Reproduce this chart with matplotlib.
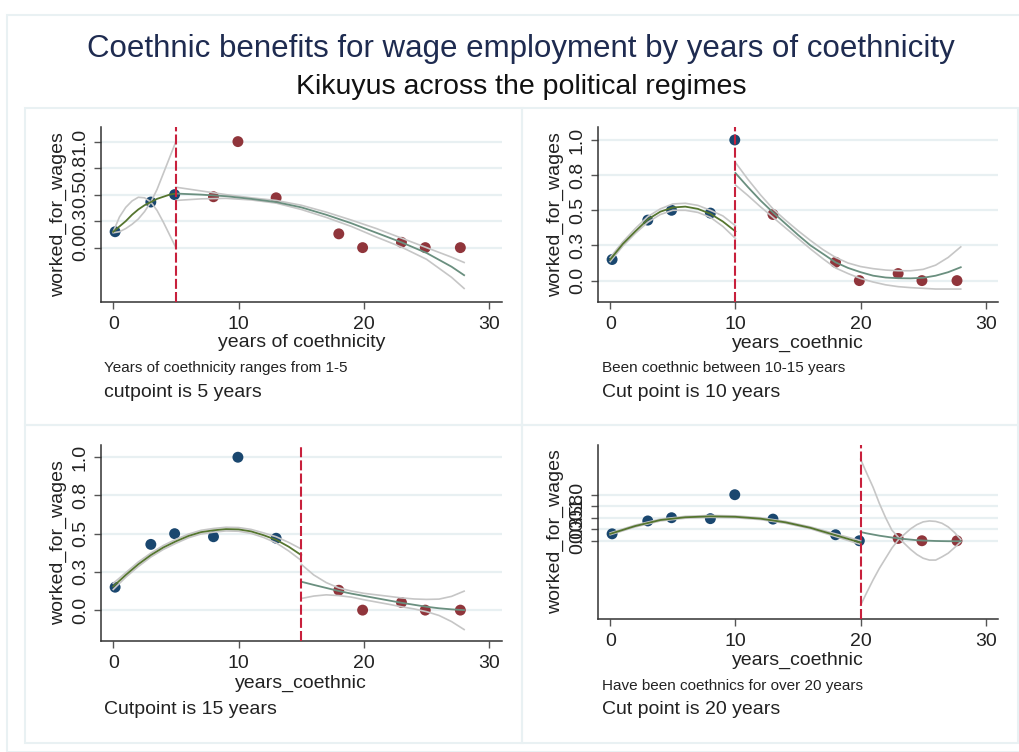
import matplotlib
matplotlib.use("Agg")
import matplotlib.pyplot as plt
from matplotlib.patches import Rectangle

plt.rcParams['font.family'] = ['Liberation Sans', 'DejaVu Sans']

# binned means of worked_for_wages by years_coethnic
bin_x = [0.15, 3.0, 4.9, 8.0, 9.95, 13.0, 18.0, 19.9, 23.0, 24.9, 27.7]
bin_y = [0.15, 0.43, 0.50, 0.48, 1.00, 0.47, 0.13, 0.00, 0.05, 0.00, 0.00]

cutpoints = [5, 10, 15, 20]
x_titles = ["years of coethnicity", "years_coethnic", "years_coethnic", "years_coethnic"]
notes = ["Years of coethnicity ranges from 1-5", "Been coethnic between 10-15 years", "",
         "Have been coethnics for over 20 years"]
captions = ["cutpoint is 5 years", "Cut point is 10 years", "Cutpoint is 15 years", "Cut point is 20 years"]
y_ticks = [0, 0.25, 0.5, 0.75, 1.0]
y_ticklabels = ["0.0", "0.3", "0.5", "0.8", "1.0"]
y_ranges = [(-0.51, 1.135), (-0.15, 1.09), (-0.20, 1.08), (-1.70, 2.08)]

# polynomial fit and confidence bands, left and right of each cutpoint
p1_left_x = [0, 0.5, 1, 1.5, 2, 2.5, 3, 3.5, 4, 4.5, 5]
p1_left_fit = [0.15, 0.20, 0.25, 0.31, 0.36, 0.40, 0.43, 0.46, 0.48, 0.50, 0.51]
p1_left_ci1 = [0.15, 0.29, 0.38, 0.44, 0.475, 0.47, 0.43, 0.35, 0.24, 0.12, 0.0]
p1_left_ci2 = [0.14, 0.15, 0.18, 0.22, 0.27, 0.34, 0.43, 0.55, 0.70, 0.85, 1.0]
p1_right_x = [5, 7, 9, 11, 13, 15, 17, 19, 21, 23, 25, 27, 28]
p1_right_fit = [0.51, 0.50, 0.485, 0.46, 0.43, 0.38, 0.31, 0.23, 0.14, 0.05, -0.05, -0.18, -0.26]
p1_right_ci1 = [0.57, 0.535, 0.50, 0.47, 0.445, 0.40, 0.335, 0.26, 0.18, 0.09, 0.0, -0.09, -0.14]
p1_right_ci2 = [0.445, 0.46, 0.465, 0.45, 0.42, 0.36, 0.285, 0.20, 0.10, 0.005, -0.11, -0.28, -0.385]

p2_left_x = [0, 1, 2, 3, 4, 5, 6, 7, 8, 9, 10]
p2_left_fit = [0.15, 0.26, 0.35, 0.435, 0.49, 0.52, 0.526, 0.51, 0.475, 0.42, 0.35]
p2_left_ci1 = [0.165, 0.275, 0.37, 0.455, 0.51, 0.545, 0.55, 0.535, 0.50, 0.46, 0.39]
p2_left_ci2 = [0.135, 0.245, 0.335, 0.415, 0.47, 0.50, 0.50, 0.485, 0.45, 0.385, 0.30]
p2_right_x = [10, 11, 12, 13, 14, 15, 16, 17, 18, 19, 20, 21, 22, 23, 24, 25, 26, 27, 28]
p2_right_fit = [0.765, 0.665, 0.57, 0.485, 0.405, 0.325, 0.25, 0.19, 0.13, 0.09, 0.06, 0.035,
                0.022, 0.017, 0.016, 0.02, 0.035, 0.06, 0.095]
p2_right_ci1 = [0.84, 0.72, 0.61, 0.51, 0.43, 0.355, 0.285, 0.22, 0.165, 0.125, 0.10, 0.085,
                0.075, 0.07, 0.07, 0.08, 0.11, 0.165, 0.24]
p2_right_ci2 = [0.68, 0.605, 0.525, 0.45, 0.375, 0.30, 0.225, 0.155, 0.09, 0.05, 0.015, -0.01,
                -0.03, -0.043, -0.05, -0.055, -0.06, -0.06, -0.06]

p3_left_x = [0, 1, 2, 3, 4, 5, 6, 7, 8, 9, 10, 11, 12, 13, 14, 15]
p3_left_fit = [0.155, 0.23, 0.30, 0.36, 0.41, 0.45, 0.485, 0.51, 0.522, 0.53, 0.528, 0.515,
               0.49, 0.46, 0.415, 0.36]
p3_left_ci1 = [0.175, 0.245, 0.315, 0.373, 0.423, 0.463, 0.497, 0.522, 0.534, 0.542, 0.54,
               0.528, 0.505, 0.48, 0.443, 0.40]
p3_left_ci2 = [0.135, 0.215, 0.285, 0.347, 0.397, 0.437, 0.473, 0.498, 0.51, 0.518, 0.516,
               0.502, 0.475, 0.44, 0.387, 0.325]
p3_right_x = [15, 16, 17, 18, 19, 20, 21, 22, 23, 24, 25, 26, 27, 28]
p3_right_fit = [0.186, 0.165, 0.145, 0.125, 0.108, 0.093, 0.078, 0.063, 0.048, 0.035, 0.022,
                0.012, 0.005, 0.0]
p3_right_ci1 = [0.30, 0.23, 0.18, 0.145, 0.125, 0.11, 0.10, 0.09, 0.08, 0.073, 0.07, 0.072,
                0.09, 0.124]
p3_right_ci2 = [0.076, 0.092, 0.10, 0.095, 0.085, 0.068, 0.053, 0.038, 0.022, 0.008, -0.01,
                -0.035, -0.075, -0.127]

p4_left_x = [0, 2, 4, 6, 8, 10, 12, 14, 16, 18, 20]
p4_left_fit = [0.15, 0.32, 0.45, 0.51, 0.53, 0.52, 0.48, 0.40, 0.28, 0.12, -0.04]
p4_left_ci1 = [0.17, 0.34, 0.47, 0.53, 0.55, 0.54, 0.50, 0.42, 0.30, 0.15, 0.0]
p4_left_ci2 = [0.13, 0.30, 0.43, 0.49, 0.51, 0.50, 0.46, 0.38, 0.26, 0.09, -0.08]
p4_right_x = [20, 20.5, 21, 21.5, 22, 22.5, 23.1, 23.5, 24, 24.5, 25, 25.5, 26, 26.5, 27, 27.5, 28]
p4_right_fit = [0.19, 0.16, 0.135, 0.11, 0.09, 0.07, 0.05, 0.038, 0.025, 0.012, 0.004, 0.0,
                -0.005, -0.008, -0.01, -0.01, -0.01]
p4_right_ci1 = [1.77, 1.46, 1.16, 0.81, 0.50, 0.23, 0.05, -0.06, -0.19, -0.30, -0.38, -0.42,
                -0.42, -0.35, -0.27, -0.15, -0.02]
p4_right_ci2 = [-1.40, -1.12, -0.85, -0.60, -0.38, -0.16, 0.05, 0.14, 0.26, 0.35, 0.41, 0.43,
                0.42, 0.38, 0.30, 0.18, 0.03]

fits = [
    (p1_left_x, p1_left_fit, p1_left_ci1, p1_left_ci2, p1_right_x, p1_right_fit, p1_right_ci1, p1_right_ci2),
    (p2_left_x, p2_left_fit, p2_left_ci1, p2_left_ci2, p2_right_x, p2_right_fit, p2_right_ci1, p2_right_ci2),
    (p3_left_x, p3_left_fit, p3_left_ci1, p3_left_ci2, p3_right_x, p3_right_fit, p3_right_ci1, p3_right_ci2),
    (p4_left_x, p4_left_fit, p4_left_ci1, p4_left_ci2, p4_right_x, p4_right_fit, p4_right_ci1, p4_right_ci2),
]

W, H = 1020, 752
fig = plt.figure(figsize=(W / 100, H / 100), dpi=100)
fig.patch.set_facecolor('white')

def fx(px):
    return px / W

def fy(py):
    return 1 - py / H

frame_col = '#e9f1f3'
# outer frame and the four panel boxes
fig.add_artist(Rectangle((fx(7.5), 0), 1.0, fy(15), transform=fig.transFigure,
                         fill=False, ec=frame_col, lw=1.5))
for (l, t, r, b) in [(25, 108, 522, 425), (522, 108, 1018, 425),
                     (25, 425, 522, 742.5), (522, 425, 1018, 742.5)]:
    fig.add_artist(Rectangle((fx(l), fy(b)), fx(r) - fx(l), fy(t) - fy(b),
                             transform=fig.transFigure, fill=False, ec=frame_col, lw=1.5))

fig.text(fx(521), fy(49), "Coethnic benefits for wage employment by years of coethnicity",
         ha='center', va='center', fontsize=22.5, color='#1e2b50')
fig.text(fx(521), fy(87.5), "Kikuyus across the political regimes",
         ha='center', va='center', fontsize=20.5, color='#111111')

# axes boxes in pixels: left, top, right, bottom
boxes = [(100.7, 127.3, 501.7, 301.7), (597.7, 127.3, 998.3, 301.7),
         (100.7, 445, 501.7, 640.7), (597.7, 445, 998.3, 619)]
ylabel_x = [58, 555, 58, 555]
xlabel_y = [343, 343, 683, 660]
note_y = [368, 368, 0, 686]
cap_y = [392.5, 392.5, 710, 710]
text_left = [104, 601.5, 104, 601.5]

blue = '#1a476f'
red = '#90353b'
green = '#55752f'
teal = '#6a8f7f'
ci_col = '#c6c6c6'

for i in range(4):
    l, t, r, b = boxes[i]
    ax = fig.add_axes([fx(l), fy(b), fx(r) - fx(l), fy(t) - fy(b)])
    ax.set_xlim(-1, 31)
    ax.set_ylim(*y_ranges[i])
    for s in ['top', 'right']:
        ax.spines[s].set_visible(False)
    for s in ['left', 'bottom']:
        ax.spines[s].set_color('#333333')
        ax.spines[s].set_linewidth(1.1)
    ax.set_xticks([0, 10, 20, 30])
    ax.set_yticks(y_ticks)
    ax.set_yticklabels(y_ticklabels, rotation=90, va='center')
    ax.tick_params(axis='both', direction='out', length=5, width=1, color='#555555',
                   labelsize=14, labelcolor='#222222')
    ax.tick_params(axis='x', pad=5)
    ax.tick_params(axis='y', pad=3.5)
    for yt in y_ticks:
        ax.axhline(yt, color='#e8f0f2', lw=1.6, zorder=0)

    cut = cutpoints[i]
    colors = [blue if xv < cut else red for xv in bin_x]
    ax.scatter(bin_x, bin_y, s=62, c=colors, zorder=2, linewidths=0)

    lx, lf, lc1, lc2, rx, rf, rc1, rc2 = fits[i]
    ax.plot(lx, lc1, color=ci_col, lw=1.2, zorder=3)
    ax.plot(lx, lc2, color=ci_col, lw=1.2, zorder=3)
    ax.plot(rx, rc1, color=ci_col, lw=1.2, zorder=3)
    ax.plot(rx, rc2, color=ci_col, lw=1.2, zorder=3)
    ax.plot(lx, lf, color=green, lw=1.3, zorder=4)
    ax.plot(rx, rf, color=teal, lw=1.3, zorder=4)

    ax.axvline(cut, color='#c8203c', lw=1.5, dashes=(4.8, 1.5), zorder=5)

    fig.text(fx(ylabel_x[i]), fy((t + b) / 2), "worked_for_wages", rotation=90,
             ha='center', va='center', fontsize=14, color='#222222')
    fig.text(fx((l + r) / 2), fy(xlabel_y[i]), x_titles[i], ha='center', va='center',
             fontsize=14, color='#222222')
    if notes[i]:
        fig.text(fx(text_left[i]), fy(note_y[i]), notes[i], ha='left', va='center',
                 fontsize=11, color='#222222')
    fig.text(fx(text_left[i]), fy(cap_y[i]), captions[i], ha='left', va='center',
             fontsize=14, color='#222222')

fig.savefig("out.png", dpi=100, facecolor='white')
